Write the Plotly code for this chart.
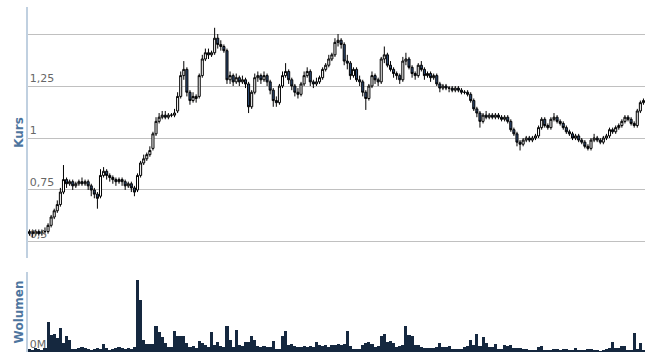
import plotly.graph_objects as go

opens = [
0.54,0.55,0.54,0.55,0.54,0.55,0.55,0.58,0.62,0.65,
0.68,0.74,0.80,0.78,0.79,0.77,0.78,0.79,0.78,0.79,
0.77,0.75,0.73,0.72,0.82,0.84,0.82,0.81,0.80,0.79,
0.80,0.79,0.77,0.78,0.76,0.75,0.82,0.88,0.90,0.92,
0.95,1.02,1.08,1.10,1.11,1.10,1.11,1.11,1.13,1.20,
1.30,1.33,1.22,1.18,1.20,1.20,1.30,1.38,1.41,1.40,
1.41,1.48,1.45,1.44,1.42,1.28,1.30,1.27,1.29,1.27,
1.28,1.26,1.15,1.22,1.29,1.30,1.28,1.30,1.27,1.23,
1.18,1.17,1.25,1.30,1.32,1.28,1.25,1.22,1.21,1.26,
1.30,1.32,1.27,1.26,1.27,1.29,1.33,1.35,1.38,1.40,
1.46,1.47,1.45,1.37,1.36,1.30,1.33,1.28,1.27,1.22,
1.19,1.25,1.30,1.28,1.27,1.38,1.40,1.35,1.33,1.31,
1.30,1.28,1.37,1.38,1.34,1.31,1.30,1.35,1.33,1.30,
1.31,1.29,1.30,1.26,1.24,1.25,1.24,1.24,1.23,1.24,
1.23,1.22,1.22,1.21,1.18,1.14,1.12,1.08,1.11,1.10,
1.11,1.10,1.11,1.10,1.09,1.10,1.08,1.04,1.02,0.98,
0.97,0.99,1.00,0.99,1.00,1.01,1.05,1.09,1.06,1.05,
1.09,1.10,1.08,1.07,1.05,1.03,1.02,1.00,1.01,0.99,
0.98,0.96,0.95,0.99,1.00,0.99,0.98,1.00,1.01,1.04,
1.03,1.05,1.06,1.08,1.10,1.09,1.07,1.06,1.13,1.17]

highs = [
0.56,0.56,0.56,0.56,0.56,0.57,0.59,0.63,0.66,0.70,
0.76,0.87,0.81,0.80,0.80,0.79,0.80,0.81,0.80,0.80,
0.78,0.76,0.74,0.85,0.86,0.85,0.83,0.82,0.81,0.81,
0.81,0.80,0.79,0.79,0.77,0.83,0.89,0.92,0.93,0.96,
1.03,1.10,1.12,1.13,1.13,1.12,1.12,1.14,1.22,1.32,
1.37,1.34,1.23,1.22,1.21,1.31,1.40,1.43,1.43,1.42,
1.53,1.50,1.47,1.45,1.43,1.32,1.31,1.31,1.30,1.30,
1.29,1.27,1.23,1.31,1.32,1.31,1.32,1.31,1.28,1.24,
1.20,1.26,1.32,1.36,1.33,1.29,1.26,1.24,1.27,1.32,
1.34,1.33,1.28,1.29,1.30,1.34,1.36,1.40,1.41,1.48,
1.50,1.48,1.46,1.40,1.37,1.34,1.34,1.30,1.28,1.23,
1.26,1.32,1.31,1.29,1.39,1.44,1.41,1.37,1.34,1.32,
1.31,1.39,1.41,1.39,1.35,1.32,1.36,1.37,1.34,1.32,
1.32,1.31,1.31,1.27,1.26,1.26,1.25,1.25,1.25,1.25,
1.24,1.23,1.23,1.22,1.19,1.15,1.13,1.12,1.13,1.12,
1.12,1.12,1.12,1.11,1.11,1.11,1.09,1.05,1.03,0.99,
1.00,1.01,1.01,1.01,1.02,1.06,1.10,1.10,1.07,1.10,
1.12,1.11,1.09,1.08,1.06,1.04,1.03,1.02,1.02,1.00,
0.99,0.97,1.00,1.02,1.01,1.00,1.01,1.02,1.05,1.05,
1.06,1.07,1.09,1.11,1.11,1.10,1.08,1.14,1.18,1.19]

lows = [
0.53,0.52,0.53,0.53,0.53,0.54,0.54,0.57,0.61,0.64,
0.67,0.73,0.76,0.77,0.75,0.76,0.77,0.77,0.77,0.75,
0.72,0.71,0.66,0.71,0.81,0.80,0.79,0.78,0.77,0.78,
0.77,0.75,0.76,0.74,0.72,0.74,0.81,0.87,0.89,0.91,
0.94,1.01,1.07,1.09,1.09,1.09,1.10,1.10,1.12,1.19,
1.28,1.20,1.16,1.17,1.17,1.19,1.29,1.37,1.38,1.39,
1.40,1.43,1.42,1.41,1.26,1.26,1.25,1.26,1.25,1.26,
1.24,1.12,1.14,1.21,1.27,1.26,1.27,1.25,1.21,1.15,
1.15,1.16,1.24,1.29,1.26,1.23,1.20,1.19,1.20,1.25,
1.29,1.25,1.24,1.25,1.26,1.28,1.32,1.34,1.37,1.39,
1.44,1.43,1.35,1.33,1.28,1.29,1.27,1.25,1.20,1.135,
1.18,1.24,1.26,1.25,1.26,1.36,1.34,1.32,1.29,1.28,
1.26,1.27,1.35,1.33,1.29,1.28,1.29,1.32,1.28,1.29,
1.27,1.28,1.25,1.22,1.23,1.23,1.22,1.22,1.22,1.22,
1.21,1.21,1.20,1.17,1.13,1.10,1.05,1.07,1.09,1.09,
1.09,1.09,1.09,1.08,1.08,1.07,1.03,1.01,0.96,0.94,
0.96,0.98,0.98,0.98,0.99,1.00,1.04,1.05,1.04,1.04,
1.08,1.07,1.06,1.04,1.02,1.01,0.99,0.99,0.98,0.97,
0.95,0.94,0.94,0.98,0.98,0.97,0.97,0.99,1.00,1.02,
1.02,1.04,1.05,1.07,1.08,1.06,1.05,1.05,1.12,1.16]

closes = [
0.55,0.54,0.55,0.54,0.55,0.55,0.58,0.62,0.65,0.68,
0.74,0.80,0.78,0.79,0.77,0.78,0.79,0.78,0.79,0.77,
0.75,0.73,0.71,0.82,0.84,0.82,0.81,0.80,0.79,0.80,
0.79,0.77,0.78,0.76,0.74,0.82,0.88,0.90,0.92,0.94,
1.02,1.08,1.10,1.11,1.10,1.11,1.11,1.12,1.20,1.30,
1.33,1.22,1.18,1.20,1.19,1.30,1.38,1.41,1.40,1.41,
1.48,1.45,1.44,1.42,1.28,1.30,1.27,1.29,1.27,1.28,
1.26,1.15,1.22,1.29,1.30,1.28,1.30,1.27,1.23,1.18,
1.17,1.25,1.30,1.32,1.28,1.25,1.22,1.21,1.26,1.30,
1.32,1.27,1.26,1.27,1.29,1.33,1.35,1.38,1.40,1.46,
1.47,1.45,1.37,1.36,1.30,1.33,1.28,1.27,1.22,1.19,
1.25,1.30,1.28,1.27,1.38,1.40,1.35,1.33,1.31,1.30,
1.28,1.37,1.38,1.34,1.31,1.30,1.35,1.33,1.30,1.31,
1.29,1.30,1.26,1.24,1.25,1.24,1.24,1.23,1.24,1.23,
1.22,1.22,1.21,1.18,1.14,1.12,1.08,1.11,1.10,1.11,
1.10,1.11,1.10,1.09,1.10,1.08,1.04,1.02,0.98,0.97,
0.99,1.00,0.99,1.00,1.01,1.05,1.09,1.06,1.05,1.09,
1.10,1.08,1.07,1.05,1.03,1.02,1.00,1.01,0.99,0.98,
0.96,0.95,0.99,1.00,0.99,0.98,1.00,1.01,1.04,1.03,
1.05,1.06,1.08,1.10,1.09,1.07,1.06,1.13,1.17,1.18]

# volume in millions
volumes = [
0.03,0.02,0.04,0.03,0.02,0.04,0.30,0.17,0.18,0.14,
0.24,0.09,0.16,0.12,0.03,0.03,0.04,0.05,0.04,0.03,
0.02,0.03,0.04,0.03,0.08,0.04,0.02,0.03,0.04,0.05,
0.04,0.03,0.04,0.03,0.05,0.72,0.52,0.12,0.08,0.08,
0.08,0.26,0.20,0.15,0.09,0.05,0.05,0.21,0.16,0.16,
0.16,0.09,0.05,0.06,0.04,0.11,0.09,0.07,0.05,0.20,
0.07,0.10,0.06,0.05,0.26,0.12,0.05,0.22,0.07,0.06,
0.10,0.10,0.16,0.12,0.06,0.05,0.06,0.05,0.05,0.11,
0.03,0.03,0.16,0.21,0.07,0.08,0.06,0.05,0.05,0.06,
0.05,0.06,0.05,0.10,0.07,0.06,0.07,0.05,0.07,0.07,
0.08,0.07,0.08,0.21,0.06,0.03,0.03,0.03,0.07,0.09,
0.10,0.08,0.05,0.06,0.16,0.18,0.10,0.11,0.09,0.05,
0.06,0.07,0.26,0.17,0.16,0.07,0.07,0.05,0.04,0.04,
0.04,0.04,0.05,0.09,0.05,0.05,0.06,0.03,0.03,0.03,
0.03,0.05,0.06,0.12,0.07,0.18,0.06,0.15,0.09,0.05,
0.05,0.08,0.03,0.03,0.07,0.06,0.07,0.04,0.04,0.04,
0.03,0.03,0.02,0.02,0.02,0.05,0.06,0.02,0.02,0.02,
0.03,0.03,0.02,0.03,0.03,0.02,0.02,0.04,0.02,0.02,
0.02,0.03,0.03,0.02,0.02,0.01,0.02,0.03,0.04,0.10,
0.04,0.04,0.06,0.06,0.02,0.02,0.19,0.03,0.09,0.02]

price_ticks = [0.5, 0.75, 1.0, 1.25, 1.5]
price_tick_labels = ["0,5", "0,75", "1", "1,25", ""]
volume_ticks = [0]
volume_tick_labels = ["0M"]

x = list(range(len(closes)))

FONT = "DejaVu Sans"
TITLE_COLOR = "#4d759e"
AXIS_LINE = "#c0d0e0"

fig = go.Figure()
fig.add_trace(go.Candlestick(
    x=x, open=opens, high=highs, low=lows, close=closes,
    increasing=dict(line=dict(color="#000000", width=1), fillcolor="#ffffff"),
    decreasing=dict(line=dict(color="#000000", width=1), fillcolor="#2f4d78"),
    whiskerwidth=0, xaxis="x", yaxis="y", showlegend=False, hoverinfo="skip",
))
fig.add_trace(go.Bar(
    x=x, y=volumes, marker=dict(color="#15283f", line=dict(width=0)),
    xaxis="x2", yaxis="y2", showlegend=False, hoverinfo="skip",
))

fig.update_layout(
    width=647, height=361,
    margin=dict(l=28, r=2, t=7, b=9),
    paper_bgcolor="#ffffff", plot_bgcolor="#ffffff",
    font=dict(family=FONT, size=11, color="#666666"),
    bargap=0,
    boxgap=0.05,
    xaxis=dict(domain=[0, 1], range=[-0.5, len(x) - 0.5], showgrid=False,
               showticklabels=False, ticks="", zeroline=False, showline=False,
               rangeslider=dict(visible=False), anchor="y"),
    xaxis2=dict(domain=[0, 1], range=[-0.5, len(x) - 0.5], matches="x",
                showgrid=False, showticklabels=False, ticks="", zeroline=False,
                showline=False, anchor="y2"),
    yaxis=dict(domain=[0.2725, 1.0], range=[0.423, 1.63],
               tickvals=price_ticks, ticktext=price_tick_labels,
               ticklabelposition="inside top", ticks="",
               showgrid=True, gridcolor="#c0c0c0", gridwidth=1,
               zeroline=False, showline=True, linecolor=AXIS_LINE, linewidth=2,
               tickfont=dict(family=FONT, size=11, color="#666666"),
               title=dict(text="Kurs", standoff=4,
                          font=dict(family=FONT, size=12, color=TITLE_COLOR, weight="bold")),
               anchor="x"),
    yaxis2=dict(domain=[0.0, 0.232], range=[0, 0.80],
                tickvals=volume_ticks, ticktext=volume_tick_labels,
                ticklabelposition="inside top", ticks="",
                showgrid=False, zeroline=False, showline=True,
                linecolor=AXIS_LINE, linewidth=2,
                tickfont=dict(family=FONT, size=11, color="#666666"),
                title=dict(text="Wolumen", standoff=4,
                           font=dict(family=FONT, size=12, color=TITLE_COLOR, weight="bold")),
                anchor="x2"),
)

fig.write_html("out.html")
